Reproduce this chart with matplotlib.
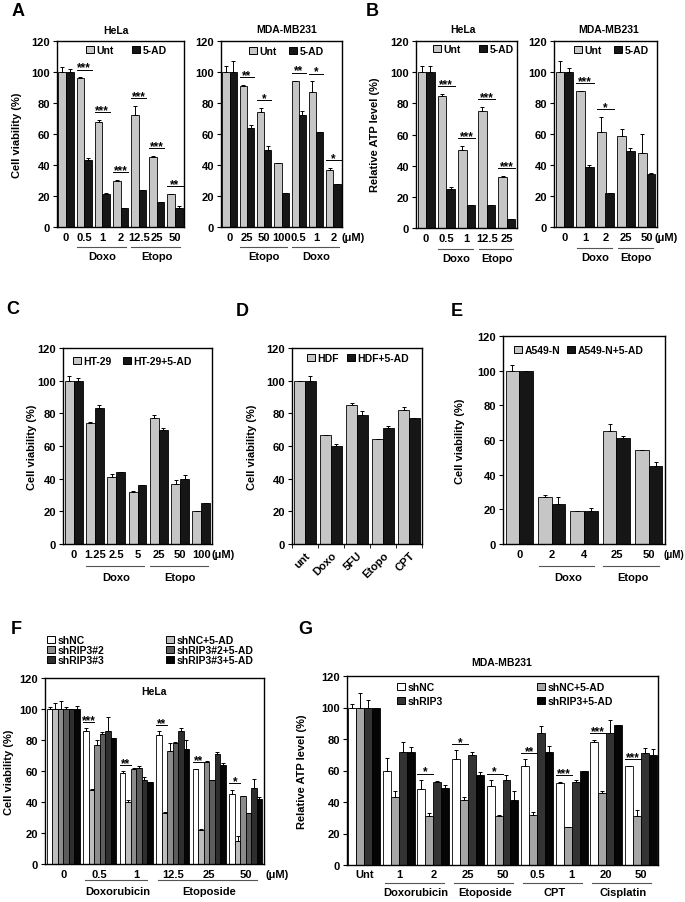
import numpy as np
import matplotlib
matplotlib.use('Agg')
import matplotlib.pyplot as plt
from matplotlib.patches import Patch
from matplotlib.transforms import blended_transform_factory, ScaledTranslation

plt.rcParams['font.family'] = ['Liberation Sans', 'DejaVu Sans']
plt.rcParams['font.weight'] = 'bold'
plt.rcParams['font.size'] = 8
plt.rcParams['axes.linewidth'] = 1.0

# ---- data ----
# A, HeLa
a1_doses = ['0', '0.5', '1', '2', '12.5', '25', '50']
a1_unt = [100, 96, 68, 30, 72, 45, 21]
a1_unt_err = [3, 0.5, 1, 0.5, 6, 1, 0.5]
a1_ad = [100, 43, 21, 12, 24, 16, 12]
a1_ad_err = [2, 1.5, 1, 0, 0, 0, 1.5]
a1_sig = ['', '***', '***', '***', '***', '***', '**']
a1_groups = [('Doxo', 1, 3), ('Etopo', 4, 6)]

# A, MDA-MB231
a2_doses = ['0', '25', '50', '100', '0.5', '1', '2']
a2_unt = [100, 91, 74, 41, 94, 87, 37]
a2_unt_err = [4, 0.5, 3, 0, 0.5, 7, 1]
a2_ad = [100, 64, 50, 22, 72, 61, 28]
a2_ad_err = [7, 2, 2, 0, 3, 0, 0]
a2_sig = ['', '**', '*', '', '**', '*', '*']
a2_groups = [('Etopo', 1, 3), ('Doxo', 4, 6)]

# B, HeLa
b1_doses = ['0', '0.5', '1', '12.5', '25']
b1_unt = [100, 85, 50, 75, 33]
b1_unt_err = [4, 1, 2.5, 2.5, 0.5]
b1_ad = [100, 25, 15, 15, 6]
b1_ad_err = [4, 1.5, 0, 0, 0]
b1_sig = ['', '***', '***', '***', '***']
b1_groups = [('Doxo', 1, 2), ('Etopo', 3, 4)]

# B, MDA-MB231
b2_doses = ['0', '1', '2', '25', '50']
b2_unt = [100, 88, 61, 59, 48]
b2_unt_err = [7, 0, 10, 4, 12]
b2_ad = [100, 39, 22, 49, 34]
b2_ad_err = [2.5, 1, 0, 2, 1]
b2_sig = ['', '***', '*', '', '']
b2_groups = [('Doxo', 1, 2), ('Etopo', 3, 4)]

# C, HT-29
c_doses = ['0', '1.25', '2.5', '5', '25', '50', '100']
c_ht = [100, 74, 41, 32, 77, 37, 20]
c_ht_err = [3, 1, 2, 0.5, 2, 2, 0]
c_ad = [100, 83, 44, 36, 70, 40, 25]
c_ad_err = [1.5, 2, 0, 0, 1, 2, 0]
c_groups = [('Doxo', 1, 3), ('Etopo', 4, 6)]

# D, HDF
d_drugs = ['unt', 'Doxo', '5FU', 'Etopo', 'CPT']
d_hdf = [100, 67, 85, 64, 82]
d_hdf_err = [0, 0, 1.5, 0, 2]
d_ad = [100, 60, 79, 71, 77]
d_ad_err = [3, 1, 2.5, 1.5, 0]

# E, A549-N
e_doses = ['0', '2', '4', '25', '50']
e_a = [100, 27, 19, 65, 54]
e_a_err = [3, 1, 0, 4.5, 0]
e_ad = [100, 23, 19, 61, 45]
e_ad_err = [0, 4, 1.5, 1.5, 2.5]
e_groups = [('Doxo', 1, 2), ('Etopo', 3, 4)]

# F, HeLa shRIP3
f_doses = ['0', '0.5', '1', '12.5', '25', '50']
f_names = ['shNC', 'shNC+5-AD', 'shRIP3#2', 'shRIP3#2+5-AD', 'shRIP3#3', 'shRIP3#3+5-AD']
f_vals = [[100, 86, 59, 83, 61, 45],
          [100, 48, 40, 33, 22, 15],
          [100, 77, 61, 73, 66, 44],
          [100, 84, 62, 78, 54, 33],
          [100, 86, 54, 86, 71, 49],
          [100, 81, 53, 74, 64, 42]]
f_errs = [[1, 1.5, 1, 2.5, 0.5, 3],
          [4, 0.5, 1, 0.5, 0.5, 3],
          [5, 3, 1, 5, 0.5, 0],
          [1, 1, 1, 1, 0, 0],
          [0, 9, 2, 1.5, 1.5, 6],
          [2, 0, 0, 6, 1, 1]]
f_sig = ['', '***', '**', '**', '**', '*']
f_groups = [('Doxorubicin', 1, 2), ('Etoposide', 3, 5)]

# G, MDA-MB231 shRIP3
g_doses = ['Unt', '1', '2', '25', '50', '0.5', '1', '20', '50']
g_names = ['shNC', 'shNC+5-AD', 'shRIP3', 'shRIP3+5-AD']
g_vals = [[100, 60, 48, 67, 50, 63, 52, 78, 63],
          [100, 43, 31, 41, 31, 32, 24, 46, 31],
          [100, 72, 53, 70, 54, 84, 53, 84, 71],
          [100, 72, 49, 57, 41, 72, 60, 89, 70]]
g_errs = [[2, 8, 6, 6, 4, 4, 1, 1.5, 0],
          [9, 4, 2, 2, 1, 1.5, 0, 1, 4],
          [5, 6, 0.5, 2, 3, 4.5, 1, 8, 3.5],
          [0, 3, 2, 2, 6, 3.5, 0, 0, 3.5]]
g_sig = ['', '', '*', '*', '*', '**', '***', '***', '***']
g_groups = [('Doxorubicin', 1, 2), ('Etoposide', 3, 4), ('CPT', 5, 6), ('Cisplatin', 7, 8)]

LIGHT = '#c6c6c6'
DARK = '#161616'
f_colors = ['white', '#bdbdbd', '#8c8c8c', '#5c5c5c', '#2e2e2e', '#050505']
g_colors = ['white', '#a6a6a6', '#333333', '#050505']

W, H = 685, 903
fig = plt.figure(figsize=(W / 100, H / 100), dpi=100)


def add_ax(x0, y0, x1, y1):
    return fig.add_axes([x0 / W, 1 - y1 / H, (x1 - x0) / W, (y1 - y0) / H])


def bars(ax, series, errs, colors, width):
    n = len(series)
    x = np.arange(len(series[0]))
    for i, (vals, err, col) in enumerate(zip(series, errs, colors)):
        off = (i - (n - 1) / 2) * width
        ax.bar(x + off, vals, width, color=col, edgecolor='black', linewidth=0.6,
               yerr=[np.zeros(len(x)), err], capsize=1.6,
               error_kw=dict(elinewidth=0.7, capthick=0.7, ecolor='black'))
    return x


def style(ax, labels, pad=3.5):
    n = len(labels)
    ax.set_xlim(-0.5, n - 0.5)
    ax.set_ylim(0, 120)
    ax.set_yticks(range(0, 121, 20))
    ax.set_xticks(np.arange(n))
    ax.set_xticklabels(labels)
    ax.tick_params(axis='x', length=0, pad=pad)
    ax.tick_params(axis='y', length=3, width=0.8, direction='out', pad=2)


def stars(ax, xc, half, top, txt, gap=5):
    if not txt:
        return
    y = top + gap
    ax.plot([xc - half, xc + half], [y, y], color='black', lw=0.7)
    ax.text(xc, y - 2.5, txt, ha='center', va='bottom', fontsize=8.5)


def offs(ax, dy):
    return blended_transform_factory(ax.transData, ax.transAxes) + \
        ScaledTranslation(0, -dy / 100, fig.dpi_scale_trans)


def groups(ax, grp, dy_line, dy_text):
    for name, a, b in grp:
        ax.plot([a - 0.4, b + 0.3], [0, 0], transform=offs(ax, dy_line),
                color='#555555', lw=0.8, clip_on=False)
        ax.text((a + b) / 2, 0, name, transform=offs(ax, dy_text),
                ha='center', va='center')


def unit(ax, xpos, dy=5, size=8):
    ax.text(xpos, 0, '(\u03bcM)', transform=offs(ax, dy), ha='left', va='top',
            fontsize=size)


def leg(label, color, xpx, ypx):
    h = Patch(facecolor=color, edgecolor='black', linewidth=0.7)
    fig.legend([h], [label], loc='center left', bbox_to_anchor=(xpx / W, 1 - ypx / H),
               frameon=False, borderpad=0, borderaxespad=0, handlelength=0.75,
               handleheight=0.75, handletextpad=0.25, fontsize=7.5)


def ftext(xpx, ypx, s, **kw):
    fig.text(xpx / W, 1 - ypx / H, s, ha='center', va='center', **kw)


def pair_panel(ax, labels, s1, e1, s2, e2, sig=None, w=0.42):
    x = bars(ax, [s1, s2], [e1, e2], [LIGHT, DARK], w)
    style(ax, labels)
    if sig:
        for i in x:
            stars(ax, i, w, max(s1[i] + e1[i], s2[i] + e2[i]), sig[i])
    return x


# ---- A ----
ax = add_ax(57, 42, 184, 228)
pair_panel(ax, a1_doses, a1_unt, a1_unt_err, a1_ad, a1_ad_err, a1_sig)
groups(ax, a1_groups, 20, 29)
leg('Unt', LIGHT, 86, 51)
leg('5-AD', DARK, 132, 51)
ftext(116, 31, 'HeLa', fontsize=7.5)
ftext(17, 135, 'Cell viability (%)', rotation=90, fontsize=8)

ax = add_ax(221, 42, 342, 228)
pair_panel(ax, a2_doses, a2_unt, a2_unt_err, a2_ad, a2_ad_err, a2_sig)
groups(ax, a2_groups, 20, 29)
unit(ax, 6.45)
leg('Unt', LIGHT, 249, 52)
leg('5-AD', DARK, 289, 52)
ftext(287, 30, 'MDA-MB231', fontsize=7.5)

# ---- B ----
ax = add_ax(416, 42, 517, 229)
pair_panel(ax, b1_doses, b1_unt, b1_unt_err, b1_ad, b1_ad_err, b1_sig)
groups(ax, b1_groups, 21, 30)
leg('Unt', LIGHT, 433, 50)
leg('5-AD', DARK, 479, 50)
ftext(463, 30, 'HeLa', fontsize=7.5)
ftext(375, 135, 'Relative ATP level (%)', rotation=90, fontsize=8)

ax = add_ax(554, 42, 657, 228)
pair_panel(ax, b2_doses, b2_unt, b2_unt_err, b2_ad, b2_ad_err, b2_sig)
groups(ax, b2_groups, 21, 30)
unit(ax, 4.4)
leg('Unt', LIGHT, 574, 51)
leg('5-AD', DARK, 614, 51)
ftext(609, 30, 'MDA-MB231', fontsize=7.5)

# ---- C ----
ax = add_ax(63, 349, 212, 545)
pair_panel(ax, c_doses, c_ht, c_ht_err, c_ad, c_ad_err)
groups(ax, c_groups, 22, 33)
unit(ax, 6.5)
leg('HT-29', LIGHT, 73, 362)
leg('HT-29+5-AD', DARK, 123, 362)
ftext(32, 447, 'Cell viability (%)', rotation=90, fontsize=8)

# ---- D ----
ax = add_ax(292, 349, 422, 545)
pair_panel(ax, d_drugs, d_hdf, d_hdf_err, d_ad, d_ad_err)
for lab in ax.get_xticklabels():
    lab.set_rotation(45)
    lab.set_ha('right')
    lab.set_rotation_mode('anchor')
ax.tick_params(axis='x', pad=4)
ax.set_xticks(np.arange(len(d_drugs) + 1) - 0.5, minor=True)
ax.tick_params(axis='x', which='minor', length=3, width=0.6, direction='out')
leg('HDF', LIGHT, 307, 359)
leg('HDF+5-AD', DARK, 347, 359)
ftext(252, 447, 'Cell viability (%)', rotation=90, fontsize=8)

# ---- E ----
ax = add_ax(503, 337, 665, 545)
pair_panel(ax, e_doses, e_a, e_a_err, e_ad, e_ad_err)
groups(ax, e_groups, 22, 33)
unit(ax, 4.45, size=7)
leg('A549-N', LIGHT, 514, 351)
leg('A549-N+5-AD', DARK, 567, 351)
ftext(460, 441, 'Cell viability (%)', rotation=90, fontsize=8)

# ---- F ----
ax = add_ax(45, 679, 264, 865)
fw = 0.15
x = bars(ax, f_vals, f_errs, f_colors, fw)
style(ax, f_doses)
for i in x:
    top = max(f_vals[0][i] + f_errs[0][i], f_vals[1][i] + f_errs[1][i])
    stars(ax, i - 2 * fw, fw, top, f_sig[i], gap=4)
groups(ax, f_groups, 16, 27)
unit(ax, 5.55)
for k, (nm, col) in enumerate(zip(f_names, f_colors)):
    xpx = 47 if k % 2 == 0 else 166
    ypx = 641 + 10 * (k // 2)
    leg(nm, col, xpx, ypx)
ftext(154, 692, 'HeLa', fontsize=7.5)
ftext(9, 772, 'Cell viability (%)', rotation=90, fontsize=8)

# ---- G ----
ax = add_ax(347, 677, 658, 866)
gw = 0.23
x = bars(ax, g_vals, g_errs, g_colors, gw)
style(ax, g_doses, pad=3)
for i in x:
    top = max(g_vals[0][i] + g_errs[0][i], g_vals[1][i] + g_errs[1][i])
    stars(ax, i - gw, gw, top, g_sig[i], gap=4)
groups(ax, g_groups, 18, 27)
leg('shNC', g_colors[0], 397, 688)
leg('shRIP3', g_colors[2], 397, 702)
leg('shNC+5-AD', g_colors[1], 537, 688)
leg('shRIP3+5-AD', g_colors[3], 537, 702)
ftext(502, 663, 'MDA-MB231', fontsize=7.5)
ftext(302, 772, 'Relative ATP level (%)', rotation=90, fontsize=8)

# ---- panel letters ----
for letter, xp, yp in [('A', 18, 12), ('B', 372, 11), ('C', 13, 309), ('D', 242, 311),
                       ('E', 457, 311), ('F', 16, 629), ('G', 305, 629)]:
    ftext(xp, yp, letter, fontsize=13)

fig.savefig('out.png', dpi=100)
